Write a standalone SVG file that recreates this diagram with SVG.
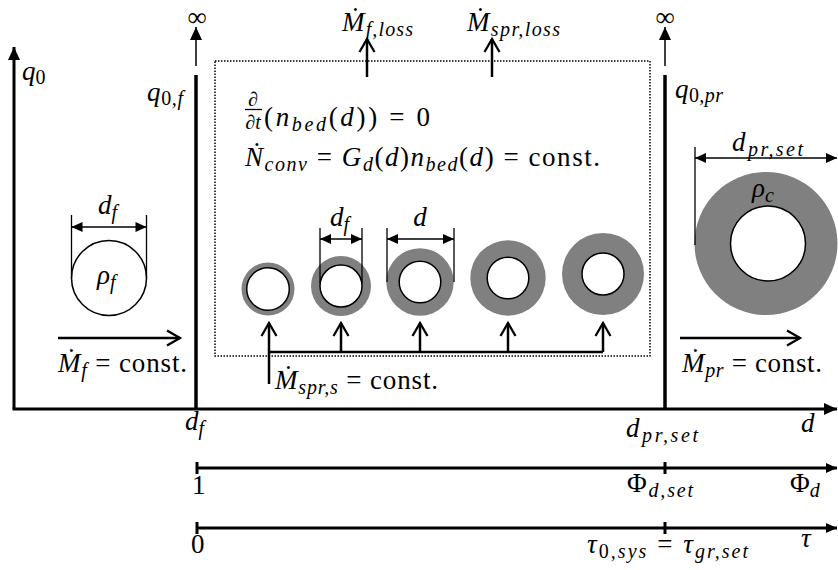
<svg xmlns="http://www.w3.org/2000/svg" width="838" height="570" viewBox="0 0 838 570">
<style>
text{font-family:"Liberation Serif","DejaVu Serif",serif;fill:#000}
.v{font-size:27px;font-style:italic}
.r{font-size:27px;font-style:normal}
.sb{font-size:20px;font-style:italic}
.sr{font-size:20px;font-style:normal}
.inf{font-size:27px;font-style:normal}
.ax{stroke:#000;stroke-width:3;fill:none}
.thick{stroke:#000;stroke-width:3.5;fill:none}
.thin{stroke:#000;stroke-width:1.5;fill:none}
.dim{stroke:#000;stroke-width:1.3;fill:none}
.flow{stroke:#000;stroke-width:2.5;fill:none}
.ring{fill:#808080}
.core{fill:#fff;stroke:#000;stroke-width:1.5}
.box{fill:none;stroke:#000;stroke-width:1.5;stroke-dasharray:1.5 1.5}
</style>
<defs>
<marker id="ah" markerUnits="userSpaceOnUse" markerWidth="14" markerHeight="12" refX="13" refY="6" orient="auto" overflow="visible"><path d="M0,0 L13,6 L0,12 z" fill="#000"/></marker>
<marker id="ahs" markerUnits="userSpaceOnUse" markerWidth="12" markerHeight="10" refX="11" refY="5" orient="auto-start-reverse" overflow="visible"><path d="M0,0 L11,5 L0,10 z" fill="#000"/></marker>
<marker id="open" markerUnits="userSpaceOnUse" markerWidth="18" markerHeight="18" refX="14" refY="8" orient="auto" overflow="visible"><path d="M1,0.5 L14,8 L1,15.5" fill="none" stroke="#000" stroke-width="2.3"/></marker>
</defs>
<rect width="838" height="570" fill="#fff"/>

<g id="connectors">
  <line class="ax" x1="14" y1="409" x2="14" y2="47" marker-end="url(#ah)"/>
  <line class="ax" x1="12.5" y1="409" x2="837" y2="409" marker-end="url(#ah)"/>
  <line class="thick" x1="196" y1="75" x2="196" y2="409"/>
  <line class="thin" x1="196" y1="66" x2="196" y2="27" marker-end="url(#ah)"/>
  <line class="thick" x1="665" y1="75" x2="665" y2="409"/>
  <line class="thin" x1="665" y1="66" x2="665" y2="27" marker-end="url(#ah)"/>
  <line class="flow" x1="367" y1="77" x2="367" y2="39" marker-end="url(#open)"/>
  <line class="flow" x1="492" y1="77" x2="492" y2="39" marker-end="url(#open)"/>
  <line class="flow" x1="58" y1="338" x2="180" y2="338" marker-end="url(#open)"/>
  <line class="flow" x1="680" y1="338" x2="800" y2="338" marker-end="url(#open)"/>
  <polyline class="flow" points="269,352 603,352"/>
  <line class="flow" x1="269" y1="384" x2="269" y2="323" marker-end="url(#open)"/>
  <line class="flow" x1="341" y1="352" x2="341" y2="323" marker-end="url(#open)"/>
  <line class="flow" x1="420" y1="352" x2="420" y2="323" marker-end="url(#open)"/>
  <line class="flow" x1="508" y1="352" x2="508" y2="323" marker-end="url(#open)"/>
  <line class="flow" x1="603" y1="352" x2="603" y2="323" marker-end="url(#open)"/>
  <line class="ax" x1="197" y1="468" x2="837" y2="468" marker-end="url(#ahs)"/>
  <line class="ax" x1="197" y1="462" x2="197" y2="474"/>
  <line class="ax" x1="665" y1="462" x2="665" y2="474"/>
  <line class="ax" x1="197" y1="528" x2="837" y2="528" marker-end="url(#ahs)"/>
  <line class="ax" x1="197" y1="522" x2="197" y2="534"/>
  <line class="ax" x1="665" y1="522" x2="665" y2="534"/>
</g>

<g id="axis-labels">
  <text class="v" x="22" y="80">q<tspan class="sr" dy="4">0</tspan></text>
  <text class="inf" x="197" y="26" text-anchor="middle">∞</text>
  <text class="inf" x="665" y="26" text-anchor="middle">∞</text>
  <text class="v" x="147" y="101" textLength="36" lengthAdjust="spacing">q<tspan class="sr" dy="4">0</tspan><tspan class="sb">,f</tspan></text>
  <text class="v" x="675" y="98" textLength="48" lengthAdjust="spacing">q<tspan class="sr" dy="4">0</tspan><tspan class="sb">,pr</tspan></text>
  <text class="v" x="185" y="430">d<tspan class="sb" dy="5">f</tspan></text>
  <text class="v" x="626" y="437" textLength="72" lengthAdjust="spacing">d<tspan class="sb" dy="5">pr,set</tspan></text>
  <text class="v" x="801" y="432">d</text>
  <text class="r" x="192" y="494">1</text>
  <text class="r" x="627" y="492" textLength="66" lengthAdjust="spacing">Φ<tspan class="sb" dy="5">d,set</tspan></text>
  <text class="r" x="790" y="492">Φ<tspan class="sb" dy="5">d</tspan></text>
  <text class="r" x="191" y="553">0</text>
  <text class="v" x="587" y="553" textLength="161" lengthAdjust="spacing">τ<tspan class="sr" dy="5">0</tspan><tspan class="sb">,sys</tspan><tspan class="r" dy="-5"> = </tspan>τ<tspan class="sb" dy="5">gr,set</tspan></text>
  <text class="v" x="801" y="547">τ</text>
</g>

<g id="feed">
  <circle class="core" cx="109" cy="278" r="37.5"/>
  <line class="dim" x1="71.5" y1="215" x2="71.5" y2="278"/>
  <line class="dim" x1="146.5" y1="215" x2="146.5" y2="278"/>
  <line class="dim" x1="71.5" y1="227" x2="146.5" y2="227" marker-start="url(#ahs)" marker-end="url(#ahs)"/>
  <text class="v" x="98" y="214">d<tspan class="sb" dy="5">f</tspan></text>
  <text class="v" x="97" y="284">ρ<tspan class="sb" dy="5">f</tspan></text>
  <text class="v" x="58" y="372" textLength="129" lengthAdjust="spacing">Ṁ<tspan class="sb" dy="5">f</tspan><tspan class="r" dy="-5"> = const.</tspan></text>
</g>

<g id="bed">
  <rect class="box" x="215" y="61" width="435" height="295"/>
  <text class="v" x="342" y="31" textLength="71" lengthAdjust="spacing">Ṁ<tspan class="sb" dy="5">f,loss</tspan></text>
  <text class="v" x="467" y="31" textLength="93" lengthAdjust="spacing">Ṁ<tspan class="sb" dy="5">spr,loss</tspan></text>
  <text class="v" x="253" y="106" text-anchor="middle" style="font-size:20px">∂</text>
  <line x1="245" y1="109.5" x2="262" y2="109.5" stroke="#000" stroke-width="1.3"/>
  <text class="v" x="253" y="129" text-anchor="middle" style="font-size:20px">∂t</text>
  <text class="r" x="264" y="126" textLength="166" lengthAdjust="spacing">(<tspan class="v">n</tspan><tspan class="sb" dy="5">bed</tspan><tspan dy="-5">(</tspan><tspan class="v">d</tspan>)) = 0</text>
  <text class="v" x="245" y="166" textLength="355" lengthAdjust="spacing">Ṅ<tspan class="sb" dy="5">conv</tspan><tspan class="r" dy="-5"> = </tspan>G<tspan class="sb" dy="5">d</tspan><tspan class="r" dy="-5">(</tspan>d<tspan class="r">)</tspan>n<tspan class="sb" dy="5">bed</tspan><tspan class="r" dy="-5">(</tspan>d<tspan class="r">) = const.</tspan></text>
  <g id="p1"><circle class="ring" cx="268" cy="289" r="26.5"/><circle class="core" cx="268" cy="289" r="21.3"/></g>
  <g id="p2"><circle class="ring" cx="341" cy="286" r="30"/><circle class="core" cx="341" cy="286" r="21"/></g>
  <g id="p3"><circle class="ring" cx="420" cy="282" r="33.7"/><circle class="core" cx="420" cy="282" r="20.8"/></g>
  <g id="p4"><circle class="ring" cx="508" cy="278" r="37.7"/><circle class="core" cx="508" cy="278" r="20.8"/></g>
  <g id="p5"><circle class="ring" cx="603" cy="274" r="41"/><circle class="core" cx="603" cy="274" r="21"/></g>
  <line class="dim" x1="320" y1="228" x2="320" y2="283"/>
  <line class="dim" x1="362" y1="228" x2="362" y2="283"/>
  <line class="dim" x1="320" y1="239" x2="362" y2="239" marker-start="url(#ahs)" marker-end="url(#ahs)"/>
  <text class="v" x="330" y="226">d<tspan class="sb" dy="5">f</tspan></text>
  <line class="dim" x1="387" y1="228" x2="387" y2="282"/>
  <line class="dim" x1="454" y1="228" x2="454" y2="282"/>
  <line class="dim" x1="387" y1="239" x2="454" y2="239" marker-start="url(#ahs)" marker-end="url(#ahs)"/>
  <text class="v" x="420" y="226" text-anchor="middle">d</text>
  <text class="v" x="275" y="389" textLength="163" lengthAdjust="spacing">Ṁ<tspan class="sb" dy="5">spr,s</tspan><tspan class="r" dy="-5"> = const.</tspan></text>
</g>

<g id="product">
  <circle class="ring" cx="766" cy="243.5" r="71.5"/>
  <circle class="core" cx="768" cy="243.5" r="37.5"/>
  <line class="dim" x1="695" y1="147" x2="695" y2="245"/>
  <line class="dim" x1="695" y1="158" x2="837" y2="158" marker-start="url(#ahs)" marker-end="url(#ahs)"/>
  <text class="v" x="732" y="151" textLength="71" lengthAdjust="spacing">d<tspan class="sb" dy="5">pr,set</tspan></text>
  <text class="v" x="752" y="197">ρ<tspan class="sb" dy="5">c</tspan></text>
  <text class="v" x="682" y="372" textLength="140" lengthAdjust="spacing">Ṁ<tspan class="sb" dy="5">pr</tspan><tspan class="r" dy="-5"> = const.</tspan></text>
</g>
</svg>
